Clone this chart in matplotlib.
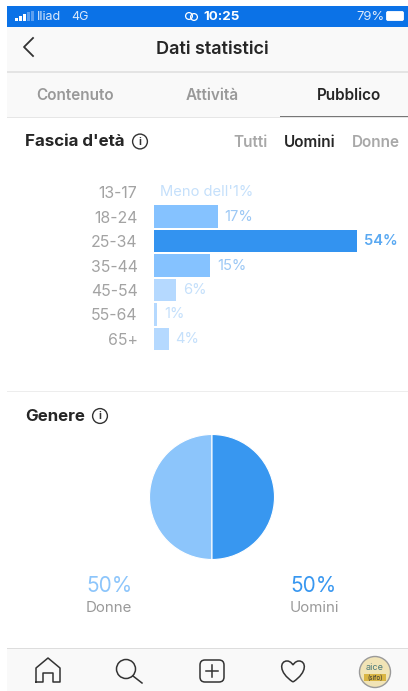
import numpy as np
import matplotlib
matplotlib.use("Agg")
import matplotlib.pyplot as plt
from matplotlib.patches import Rectangle, Circle, FancyBboxPatch, PathPatch
from matplotlib.path import Path

age_groups = ["13-17", "18-24", "25-34", "35-44", "45-54", "55-64", "65+"]
age_values = [0, 17, 54, 15, 6, 1, 4]
age_labels = ["Meno dell'1%", "17%", "54%", "15%", "6%", "1%", "4%"]
bar_colors = ["#b5d9ff", "#85c2ff", "#3393f0", "#85c2ff", "#b5d9ff", "#b5d9ff", "#b5d9ff"]
label_colors = ["#c5e0fb", "#9cc8f5", "#5aa9f2", "#9cc8f5", "#c5e0fb", "#c5e0fb", "#c5e0fb"]
gender_names = ["Donne", "Uomini"]
gender_values = [50, 50]
gender_colors = ["#8cc5fb", "#3897f0"]
tabs = ["Contenuto", "Attività", "Pubblico"]
filters = ["Tutti", "Uomini", "Donne"]

W, H = 408, 691
plt.rcParams["font.family"] = ["Inter", "DejaVu Sans"]
fig = plt.figure(figsize=(W / 100, H / 100), dpi=100, facecolor="white")

bg = fig.add_axes([0, 0, 1, 1])
bg.set_xlim(0, W)
bg.set_ylim(H, 0)
bg.axis("off")


def rect(x, y, w, h, c):
    bg.add_patch(Rectangle((x, y), w, h, fc=c, ec="none"))


def txt(x, y, s, size=10, c="#262626", ha="center", weight="normal"):
    bg.text(x, y, s, fontsize=size, color=c, ha=ha, va="center", fontweight=weight)


# Status bar and header
rect(7, 6, 401, 21, "#0b72e7")
rect(7, 27, 401, 90, "#f9f9f9")
rect(7, 648, 401, 43, "#f9f9f9")
rect(7, 71, 401, 1.5, "#e4e4e4")
rect(7, 116.5, 401, 1.2, "#e6e6e6")
rect(280, 115.8, 128, 1.5, "#777777")
rect(7, 391, 401, 1, "#ededed")
rect(7, 647.5, 401, 1, "#dddddd")

for x, h, c in zip([15, 19, 23, 27, 31], [3, 5, 7, 9, 10],
                   ["white", "white", "white", "#5b9ff0", "#5b9ff0"]):
    rect(x, 21 - h, 2.6, h, c)
txt(37, 16.5, "Iliad", 9, "#dbe9fb", "left")
txt(71, 16.5, "4G", 9, "#dbe9fb", "left")
txt(222, 16.5, "10:25", 9.6, "white", weight="bold")
bg.add_patch(Circle((189, 16), 3.4, fc="none", ec="white", lw=0.9))
bg.add_patch(Circle((194, 17), 3.4, fc="none", ec="white", lw=0.9))
txt(356, 16.5, "79%", 9.4, "#dbe9fb", "left")
bg.add_patch(FancyBboxPatch((387, 12), 16, 8, boxstyle="round,pad=0.5,rounding_size=1.5",
                            fc="white", ec="white", lw=0.6))

bg.plot([33, 24, 33], [38, 47, 56], color="#333333", lw=1.3)
txt(212, 49.5, "Dati statistici", 13, "#262626", weight="semibold")

for x, s, c, w in zip([75.5, 212, 349], tabs, ["#999999", "#999999", "#262626"],
                      ["semibold", "semibold", "semibold"]):
    txt(x, 95, s, 11, c, weight=w)

txt(25, 141.5, "Fascia d'età", 12.2, "#262626", "left", "bold")
bg.add_patch(Circle((140, 141.5), 7.4, fc="none", ec="#333333", lw=1))
txt(140, 141.5, "i", 7.5, "#333333", weight="bold")
for x, s, c, w in zip([250.5, 309.5, 375.5], filters, ["#a8a8a8", "#262626", "#a8a8a8"],
                      ["semibold", "semibold", "semibold"]):
    txt(x, 142, s, 11, c, weight=w)

txt(25, 416, "Genere", 12.2, "#262626", "left", "bold")
bg.add_patch(Circle((100, 416), 7.4, fc="none", ec="#333333", lw=1))
txt(100, 416, "i", 7.5, "#333333", weight="bold")

# Bar chart: plot area spans 153.5..357 px horizontally for 0..54
rows = np.arange(len(age_groups))
row_px = 24.5
top_px = 192 - row_px / 2
ax = fig.add_axes([153.5 / W, 1 - (top_px + row_px * len(rows)) / H,
                   (357 - 153.5) / W, row_px * len(rows) / H])
ax.set_xlim(0, 54)
ax.set_ylim(len(rows) - 0.5, -0.5)
ax.patch.set_alpha(0)
ax.barh(rows, age_values, height=0.9, color=bar_colors, edgecolor="none")
for s in ax.spines.values():
    s.set_visible(False)
ax.set_xticks([])
ax.set_yticks(rows, age_groups)
ax.tick_params(axis="y", length=0, pad=11.5, labelsize=11.4, labelcolor="#a3a3a3")
for r, v, lab, c in zip(rows, age_values, age_labels, label_colors):
    ax.annotate(lab, (v, r), xytext=(5.0, 0), textcoords="offset points",
                ha="left", va="center", fontsize=10.6, color=c,
                fontweight="semibold" if v == 54 else "normal")

# Pie chart
cx, cy, rad = 212, 497, 62.5
pa = fig.add_axes([(cx - rad) / W, 1 - (cy + rad) / H, 2 * rad / W, 2 * rad / H])
pa.pie(gender_values, colors=gender_colors, startangle=90, radius=1,
       wedgeprops=dict(edgecolor="white", linewidth=0.8))
pa.set_xlim(-1, 1)
pa.set_ylim(-1, 1)
for x, name, val, c in zip([109, 314], gender_names, gender_values, ["#8cc5fb", "#3897f0"]):
    txt(x, 586, f"{val}%", 15, c)
    txt(x, 608, name, 10.8, "#999999")

# Bottom nav icons
ic = "#333333"
bg.plot([36, 36, 48, 60, 60, 53, 53, 43, 43, 36], [682, 668, 658, 668, 682, 682, 673, 673, 682, 682],
        color=ic, lw=1.1, solid_joinstyle="round")
bg.add_patch(Circle((126, 669), 9.5, fc="none", ec=ic, lw=1.1))
bg.plot([133, 142], [676, 683], color=ic, lw=1.1)
bg.add_patch(FancyBboxPatch((200, 660), 24, 22, boxstyle="round,pad=0,rounding_size=5",
                            fc="none", ec=ic, lw=1.1))
bg.plot([212, 212], [665, 677], color=ic, lw=1.1)
bg.plot([206, 218], [671, 671], color=ic, lw=1.1)
heart = Path([(293, 682), (278, 672), (280, 661), (287, 661), (291, 661), (293, 665), (293, 665),
              (293, 665), (295, 661), (299, 661), (306, 661), (308, 672), (293, 682)],
             [Path.MOVETO] + [Path.CURVE4] * 12)
bg.add_patch(PathPatch(heart, fc="none", ec=ic, lw=1.1))
bg.add_patch(Circle((375, 672), 15.5, fc="#f1e4b6", ec="#9a9a9a", lw=1))
bg.add_patch(Rectangle((364, 674), 22, 7, fc="#d9b544", ec="none"))
bg.text(375, 667, "aice", fontsize=6.5, color="#4c7a7a", ha="center", va="center")
bg.text(375, 678, "(sifo)", fontsize=4.5, color="#333333", ha="center", va="center")

fig.savefig("out.png", dpi=100)
